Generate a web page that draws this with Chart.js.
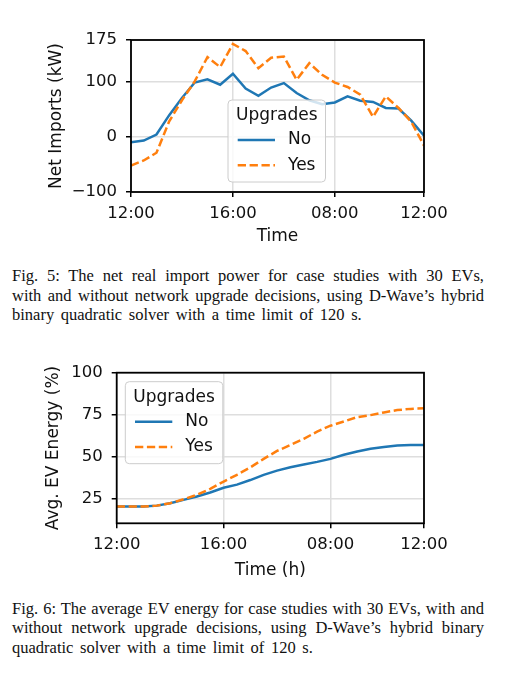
<!DOCTYPE html>
<html><head><meta charset="utf-8">
<script src="https://cdn.jsdelivr.net/npm/chart.js@4"></script>
<style>
html,body{margin:0;padding:0;background:#fff;width:510px;height:680px;overflow:hidden;}
.c{position:absolute;left:0;width:510px;height:250px;}
.cap{position:absolute;left:12px;width:472px;font-family:'Liberation Serif','Times New Roman',serif;font-size:16.5px;line-height:19.3px;color:#111;}
.cap div{white-space:nowrap;text-align:justify;text-align-last:justify;}
.cap div.last{text-align-last:left;word-spacing:2.5px;}
</style></head>
<body>
<div class="c" style="top:0px"><canvas id="c1"></canvas></div>
<div class="cap" style="top:266.4px">
<div>Fig. 5: The net real import power for case studies with 30 EVs,</div>
<div>with and without network upgrade decisions, using D-Wave’s hybrid</div>
<div class="last">binary quadratic solver with a time limit of 120 s.</div>
</div>
<div class="c" style="top:340px"><canvas id="c2"></canvas></div>
<div class="cap" style="top:599px">
<div>Fig. 6: The average EV energy for case studies with 30 EVs, with and</div>
<div>without network upgrade decisions, using D-Wave’s hybrid binary</div>
<div class="last">quadratic solver with a time limit of 120 s.</div>
</div>
<script>
const timeTickIndex = [0, 8, 16, 23];
const timeTickLabels = ['12:00', '16:00', '08:00', '12:00'];
const seriesNames = ['No', 'Yes'];
const legendTitle = 'Upgrades';

const importsNo  = [-10, -7, 4, 39, 70, 98, 104, 94, 114, 87, 74, 89, 97, 79, 66, 59, 62, 73, 65, 63, 52, 51, 29, 2];
const importsYes = [-52, -43, -29, 28, 66, 100, 144, 126, 168, 155, 124, 143, 145, 103, 133, 112, 98, 90, 76, 36, 73, 52, 27, -16];
const importTicks = [-100, 0, 100, 175];

const energyNo  = [20.5, 20.5, 20.5, 21, 22.4, 24.4, 26.4, 28.8, 31.6, 33.5, 36.2, 39.3, 41.8, 43.8, 45.4, 47, 48.8, 51.2, 53.2, 54.8, 55.8, 56.8, 57, 57];
const energyYes = [20.5, 20.5, 20.5, 21, 22.4, 24.8, 27.4, 31, 35.3, 39.3, 43.7, 48.8, 53.5, 57, 60.7, 65, 68.5, 71, 73.6, 74.8, 76.4, 77.8, 78.5, 78.8];
const energyTicks = [25, 50, 75, 100];

const BLUE = '#1f77b4', ORANGE = '#ff7f0e';
const FONT = "'DejaVu Sans', sans-serif";
Chart.defaults.font.family = FONT;
Chart.defaults.color = '#111';

function pts(arr) { return arr.map((v, i) => ({ x: i, y: v })); }
function fmt(v) { return v < 0 ? '\u2212' + Math.abs(v) : String(v); }

const frameLegend = {
  id: 'frameLegend',
  afterDatasetsDraw(chart, args, opts) {
    const { ctx, chartArea: a } = chart;
    ctx.save();
    ctx.strokeStyle = '#000';
    ctx.lineWidth = 1.8;
    ctx.strokeRect(a.left, a.top, a.right - a.left, a.bottom - a.top);
    const x0 = a.left + opts.dx, y0 = a.top + opts.dy, w = 97.5, h = 82, r = 4;
    ctx.beginPath();
    ctx.moveTo(x0 + r, y0);
    ctx.arcTo(x0 + w, y0, x0 + w, y0 + h, r);
    ctx.arcTo(x0 + w, y0 + h, x0, y0 + h, r);
    ctx.arcTo(x0, y0 + h, x0, y0, r);
    ctx.arcTo(x0, y0, x0 + w, y0, r);
    ctx.closePath();
    ctx.fillStyle = 'rgba(255,255,255,0.8)';
    ctx.fill();
    ctx.strokeStyle = '#cccccc';
    ctx.lineWidth = 1;
    ctx.stroke();
    ctx.fillStyle = '#111';
    ctx.font = '17px ' + FONT;
    ctx.textBaseline = 'middle';
    ctx.textAlign = 'center';
    ctx.fillText(legendTitle, x0 + w / 2, y0 + 16);
    ctx.textAlign = 'left';
    chart.data.datasets.forEach((ds, i) => {
      const y = y0 + 40 + i * 25.3;
      ctx.beginPath();
      ctx.strokeStyle = ds.borderColor;
      ctx.lineWidth = ds.borderWidth;
      ctx.setLineDash(ds.borderDash || []);
      ctx.moveTo(x0 + 9.7, y);
      ctx.lineTo(x0 + 47, y);
      ctx.stroke();
      ctx.setLineDash([]);
      ctx.fillText(ds.label, x0 + 60, y);
    });
    ctx.restore();
  }
};

function makeChart(id, noData, yesData, yTicks, yMin, yMax, yTitle, xTitle, pad, yWidth, xHeight, legendPos) {
  return new Chart(document.getElementById(id), {
    type: 'line',
    data: {
      datasets: [
        { label: seriesNames[0], data: pts(noData), borderColor: BLUE, borderWidth: 2.5, pointRadius: 0, tension: 0, order: 1, fill: false },
        { label: seriesNames[1], data: pts(yesData), borderColor: ORANGE, borderWidth: 2.5, borderDash: [8.3, 3.6], pointRadius: 0, tension: 0, order: 0, fill: false }
      ]
    },
    options: {
      responsive: true,
      maintainAspectRatio: false,
      animation: false,
      layout: { padding: pad },
      plugins: { legend: { display: false }, tooltip: { enabled: false }, frameLegend: legendPos },
      scales: {
        x: {
          type: 'linear', min: 0, max: 23,
          afterBuildTicks: s => { s.ticks = timeTickIndex.map(v => ({ value: v })); },
          afterFit: s => { s.height = xHeight; },
          ticks: { callback: v => timeTickLabels[timeTickIndex.indexOf(v)], font: { size: 16.5 }, padding: 7, maxRotation: 0, color: '#111' },
          grid: { color: '#dedede', lineWidth: 1.5, tickColor: '#000', tickLength: 5, tickWidth: 1.5 },
          border: { display: false },
          title: { display: true, text: xTitle, font: { size: 17 }, padding: { top: 4, bottom: 2 }, color: '#111' }
        },
        y: {
          min: yMin, max: yMax,
          afterBuildTicks: s => { s.ticks = yTicks.map(v => ({ value: v })); },
          afterFit: s => { s.width = yWidth; },
          ticks: { callback: v => fmt(v), font: { size: 16.5 }, padding: 9, color: '#111' },
          grid: { color: '#dedede', lineWidth: 1.5, tickColor: '#000', tickLength: 5, tickWidth: 1.5 },
          border: { display: false },
          title: { display: true, text: yTitle, font: { size: 17 }, padding: { top: 4, bottom: 4 }, color: '#111' }
        }
      }
    },
    plugins: [frameLegend]
  });
}

makeChart('c1', importsNo, importsYes, importTicks, -100, 175, 'Net Imports (kW)', 'Time',
  { left: 42, right: 86, top: 40, bottom: 0.8 }, 89, 57.2, { dx: 97, dy: 60 });
makeChart('c2', energyNo, energyYes, energyTicks, 10.5, 100, 'Avg. EV Energy (%)', 'Time (h)',
  { left: 39.1, right: 86, top: 32.7, bottom: 7.5 }, 77.6, 59.2, { dx: 8.6, dy: 9 });
</script>
</body></html>
